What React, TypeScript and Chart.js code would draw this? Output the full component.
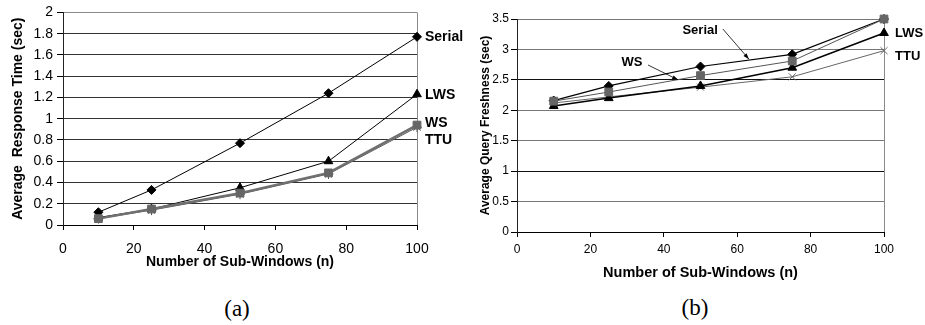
import React, { useEffect, useRef } from "react";
import { Chart, registerables } from "chart.js";

Chart.register(...registerables);

// ---- data ----
const subWindows = [10, 25, 50, 75, 100];

const respSerial = [0.12, 0.33, 0.77, 1.24, 1.77];
const respLWS = [0.07, 0.15, 0.35, 0.6, 1.23];
const respWS = [0.06, 0.15, 0.3, 0.49, 0.94];
const respTTU = [0.06, 0.14, 0.29, 0.48, 0.92];

const freshSerial = [2.16, 2.4, 2.72, 2.92, 3.5];
const freshWS = [2.15, 2.3, 2.57, 2.81, 3.5];
const freshLWS = [2.07, 2.2, 2.4, 2.7, 3.27];
const freshTTU = [2.12, 2.22, 2.38, 2.55, 2.98];

const seriesNames = ["Serial", "LWS", "WS", "TTU"];
const xTickValues = [0, 20, 40, 60, 80, 100];
const respTickValues = [0, 0.2, 0.4, 0.6, 0.8, 1, 1.2, 1.4, 1.6, 1.8, 2];
const freshTickValues = [0, 0.5, 1, 1.5, 2, 2.5, 3, 3.5];

const xTitle = "Number of Sub-Windows (n)";
const respTitle = "Average  Response Time (sec)";
const freshTitle = "Average Query Freshness (sec)";

const SANS = "'Liberation Sans', Arial, Helvetica, sans-serif";

const pts = (ys: number[]) => subWindows.map((x, i) => ({ x, y: ys[i] }));

type EndLabel = { text: string; ds: number; dx: number; dy: number };
type Arrow = { text: string; lx: number; ly: number; x0: number; y0: number; x1: number; y1: number };

function labelPlugin(endLabels: EndLabel[], arrows: Arrow[], fontPx: number) {
  return {
    id: "seriesLabels",
    afterDatasetsDraw(chart: any) {
      const ctx = chart.ctx as CanvasRenderingContext2D;
      const xs = chart.scales.x;
      const ys = chart.scales.y;
      ctx.save();
      ctx.fillStyle = "#000";
      ctx.strokeStyle = "#000";
      ctx.font = `bold ${fontPx}px ${SANS}`;
      ctx.textBaseline = "middle";
      ctx.textAlign = "left";
      for (const l of endLabels) {
        const meta = chart.getDatasetMeta(l.ds);
        const p = meta.data[meta.data.length - 1];
        ctx.fillText(l.text, p.x + l.dx, p.y + l.dy);
      }
      ctx.textAlign = "center";
      for (const a of arrows) {
        ctx.fillText(a.text, xs.getPixelForValue(a.lx), ys.getPixelForValue(a.ly));
        const X0 = xs.getPixelForValue(a.x0);
        const Y0 = ys.getPixelForValue(a.y0);
        const X1 = xs.getPixelForValue(a.x1);
        const Y1 = ys.getPixelForValue(a.y1);
        ctx.lineWidth = 0.8;
        ctx.beginPath();
        ctx.moveTo(X0, Y0);
        ctx.lineTo(X1, Y1);
        ctx.stroke();
        const ang = Math.atan2(Y1 - Y0, X1 - X0);
        const L = 6;
        const W = 2;
        ctx.beginPath();
        ctx.moveTo(X1, Y1);
        ctx.lineTo(X1 - L * Math.cos(ang) + W * Math.sin(ang), Y1 - L * Math.sin(ang) - W * Math.cos(ang));
        ctx.lineTo(X1 - L * Math.cos(ang) - W * Math.sin(ang), Y1 - L * Math.sin(ang) + W * Math.cos(ang));
        ctx.closePath();
        ctx.fill();
      }
      ctx.restore();
    },
  };
}

function makeConfig(opts: {
  datasets: any[];
  yTicks: number[];
  yMax: number;
  yTitle: string;
  yTitleFont: number;
  yTitlePad: number;
  yWidth: number;
  yTickFont: number;
  yTickPad: number;
  xTickFont: number;
  xTickPad: number;
  xTitleFont: number;
  xTitlePad: number;
  xHeight: number;
  padding: any;
  gridColor: (v: number) => string;
  plugin: any;
}) {
  return {
    type: "line",
    data: { datasets: opts.datasets },
    options: {
      responsive: false,
      animation: false,
      events: [],
      layout: { padding: opts.padding },
      plugins: { legend: { display: false }, tooltip: { enabled: false } },
      scales: {
        x: {
          type: "linear",
          min: 0,
          max: 100,
          afterBuildTicks: (s: any) => {
            s.ticks = xTickValues.map((v) => ({ value: v }));
          },
          afterFit: (s: any) => {
            s.height = opts.xHeight;
          },
          ticks: {
            color: "#000",
            font: { family: SANS, size: opts.xTickFont },
            padding: opts.xTickPad,
            maxRotation: 0,
            callback: (v: any) => String(v),
          },
          grid: {
            color: (c: any) => (c.tick && c.tick.value === 100 ? "#8a8a8a" : "rgba(0,0,0,0)"),
            tickColor: "#000",
            tickLength: 5,
            lineWidth: 1,
          },
          border: { display: true, color: "#000", width: 1 },
          title: {
            display: true,
            text: xTitle,
            color: "#000",
            font: { family: SANS, size: opts.xTitleFont, weight: "bold" },
            padding: { top: 0, bottom: opts.xTitlePad },
          },
        },
        y: {
          type: "linear",
          min: 0,
          max: opts.yMax,
          afterBuildTicks: (s: any) => {
            s.ticks = opts.yTicks.map((v) => ({ value: v }));
          },
          afterFit: (s: any) => {
            s.width = opts.yWidth;
          },
          ticks: {
            color: "#000",
            font: { family: SANS, size: opts.yTickFont },
            padding: opts.yTickPad,
            callback: (v: any) => String(v),
          },
          grid: {
            color: (c: any) => opts.gridColor(c.tick ? c.tick.value : 0),
            tickColor: "#000",
            tickLength: 6,
            lineWidth: 1,
          },
          border: { display: true, color: "#222", width: 1 },
          title: {
            display: true,
            text: opts.yTitle,
            color: "#000",
            font: { family: SANS, size: opts.yTitleFont, weight: "bold" },
            padding: { top: opts.yTitlePad, bottom: 0 },
          },
        },
      },
    },
    plugins: [opts.plugin],
  } as any;
}

function ds(label: string, data: number[], color: string, width: number, style: string, radius: number, ptColor?: string, order = 0) {
  return {
    label,
    data: pts(data),
    borderColor: color,
    borderWidth: width,
    backgroundColor: ptColor || color,
    pointBackgroundColor: ptColor || color,
    pointBorderColor: ptColor || color,
    pointBorderWidth: 1,
    pointStyle: style,
    pointRadius: radius,
    tension: 0,
    fill: false,
    clip: false,
    order,
  };
}

export default function App() {
  const leftRef = useRef<HTMLCanvasElement>(null);
  const rightRef = useRef<HTMLCanvasElement>(null);

  useEffect(() => {
    const left = new Chart(
      leftRef.current!,
      makeConfig({
        datasets: [
          ds(seriesNames[0], respSerial, "#000", 1, "rectRot", 4.5),
          ds(seriesNames[1], respLWS, "#000", 1, "triangle", 5),
          ds(seriesNames[2], respWS, "#707070", 2.5, "rect", 5.5, "#666", -1),
          ds(seriesNames[3], respTTU, "#555", 1, "star", 5, "#555"),
        ],
        yTicks: respTickValues,
        yMax: 2,
        yTitle: respTitle,
        yTitleFont: 14,
        yTitlePad: 10,
        yWidth: 63,
        yTickFont: 14,
        yTickPad: 4,
        xTickFont: 14,
        xTickPad: 11,
        xTitleFont: 14,
        xTitlePad: 4.6,
        xHeight: 50,
        padding: { left: 0, top: 11, right: 58, bottom: 5 },
        gridColor: (v) => (v === 2 ? "#8a8a8a" : "#333"),
        plugin: labelPlugin(
          [
            { text: "Serial", ds: 0, dx: 8, dy: 0 },
            { text: "LWS", ds: 1, dx: 8, dy: 1 },
            { text: "WS", ds: 2, dx: 8, dy: -1.5 },
            { text: "TTU", ds: 3, dx: 8, dy: 13 },
          ],
          [],
          14
        ),
      })
    );
    const right = new Chart(
      rightRef.current!,
      makeConfig({
        datasets: [
          ds(seriesNames[0], freshSerial, "#000", 1.2, "rectRot", 4.5),
          ds(seriesNames[2], freshWS, "#555", 1, "rect", 5.5, "#666", -1),
          ds(seriesNames[1], freshLWS, "#000", 1.5, "triangle", 5),
          ds(seriesNames[3], freshTTU, "#666", 1, "crossRot", 5, "#666"),
        ],
        yTicks: freshTickValues,
        yMax: 3.5,
        yTitle: freshTitle,
        yTitleFont: 12,
        yTitlePad: 18.8,
        yWidth: 57,
        yTickFont: 12,
        yTickPad: 2,
        xTickFont: 12,
        xTickPad: 5.8,
        xTitleFont: 14.5,
        xTitlePad: 2,
        xHeight: 52,
        padding: { left: 0, top: 19, right: 41, bottom: 6 },
        gridColor: (v) => (v === 2.5 || v === 1 ? "#111" : "#777"),
        plugin: labelPlugin(
          [
            { text: "LWS", ds: 2, dx: 11, dy: 0 },
            { text: "TTU", ds: 3, dx: 11, dy: 6 },
          ],
          [
            { text: "Serial", lx: 49.9, ly: 3.32, x0: 56.1, y0: 3.335, x1: 63.2, y1: 2.84 },
            { text: "WS", lx: 31.3, ly: 2.79, x0: 35.7, y0: 2.744, x1: 43.9, y1: 2.5 },
          ],
          13
        ),
      })
    );
    return () => {
      left.destroy();
      right.destroy();
    };
  }, []);

  const caption: React.CSSProperties = {
    position: "absolute",
    width: 100,
    textAlign: "center",
    fontFamily: "'Liberation Serif', 'DejaVu Serif', serif",
    fontSize: 23,
    lineHeight: "26px",
    color: "#000",
  };

  return (
    <div style={{ position: "absolute", left: 0, top: 0, width: 925, height: 325, background: "#fff", overflow: "hidden" }}>
      <canvas ref={leftRef} width={475} height={280} style={{ position: "absolute", left: 0, top: 0, width: 475, height: 280 }} />
      <canvas ref={rightRef} width={465} height={290} style={{ position: "absolute", left: 460, top: 0, width: 465, height: 290 }} />
      <div style={{ ...caption, left: 187, top: 296 }}>(a)</div>
      <div style={{ ...caption, left: 645, top: 295 }}>(b)</div>
    </div>
  );
}
